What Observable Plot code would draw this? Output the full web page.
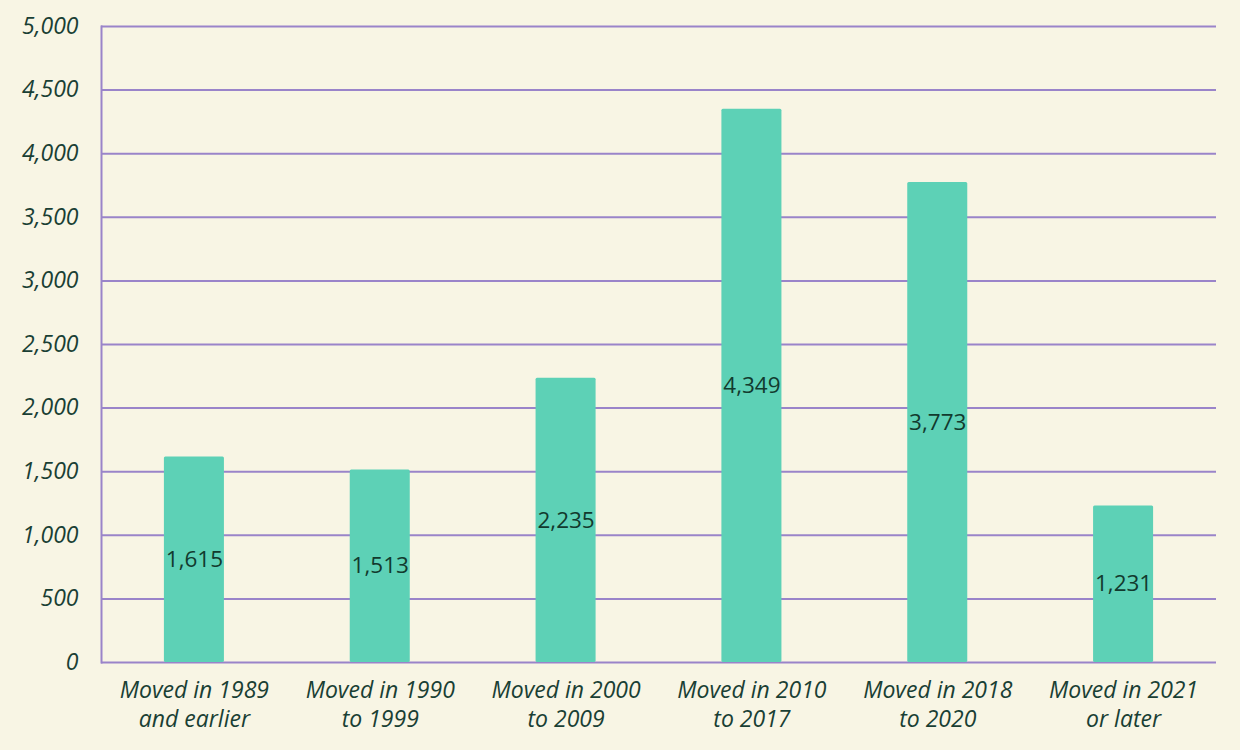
<!DOCTYPE html>
<html>
<head>
<meta charset="utf-8">
<script src="https://cdn.jsdelivr.net/npm/d3@7"></script>
<script src="https://cdn.jsdelivr.net/npm/@observablehq/plot@0.6"></script>
<style>
  html, body { margin: 0; padding: 0; background: #f8f5e4; }
  #chart svg { display: block; }
</style>
</head>
<body>
<div id="chart"></div>
<script>
const categories = [
  "Moved in 1989\nand earlier",
  "Moved in 1990\nto 1999",
  "Moved in 2000\nto 2009",
  "Moved in 2010\nto 2017",
  "Moved in 2018\nto 2020",
  "Moved in 2021\nor later"
];
const values = [1615, 1513, 2235, 4349, 3773, 1231];
const yTicks = [0, 500, 1000, 1500, 2000, 2500, 3000, 3500, 4000, 4500, 5000];

const data = categories.map((c, i) => ({category: c, value: values[i]}));
const fmt = d3.format(",");
const textColor = "#1a3f34";
const gridColor = "#9a84c9";

const chart = Plot.plot({
  width: 1240,
  height: 750,
  marginLeft: 101,
  marginRight: 24,
  marginTop: 26,
  marginBottom: 88,
  style: {background: "#f8f5e4", fontFamily: "'Open Sans', sans-serif", color: textColor},
  x: {domain: categories, paddingInner: 0.677, paddingOuter: 0.3385, align: 0.5, round: false, label: null},
  y: {domain: [0, 5000], label: null},
  marks: [
    Plot.ruleY(yTicks, {stroke: gridColor, strokeWidth: 2}),
    Plot.frame({anchor: "left", stroke: gridColor, strokeWidth: 2}),
    Plot.barY(data, {x: "category", y: "value", fill: "#5dd1b6", rx: 1.5}),
    Plot.text(data, {x: "category", y: d => d.value / 2, text: d => fmt(d.value), fill: "#123a2e", fontSize: 22.5}),
    Plot.axisY({ticks: yTicks, tickSize: 0, tickPadding: 23, tickFormat: fmt, fontSize: 23, fontStyle: "italic", fill: textColor}),
    Plot.axisX({tickSize: 0, tickPadding: 15, fontSize: 23, fontStyle: "italic", fill: textColor, lineHeight: 1.27})
  ]
});
document.getElementById("chart").appendChild(chart);
</script>
</body>
</html>
